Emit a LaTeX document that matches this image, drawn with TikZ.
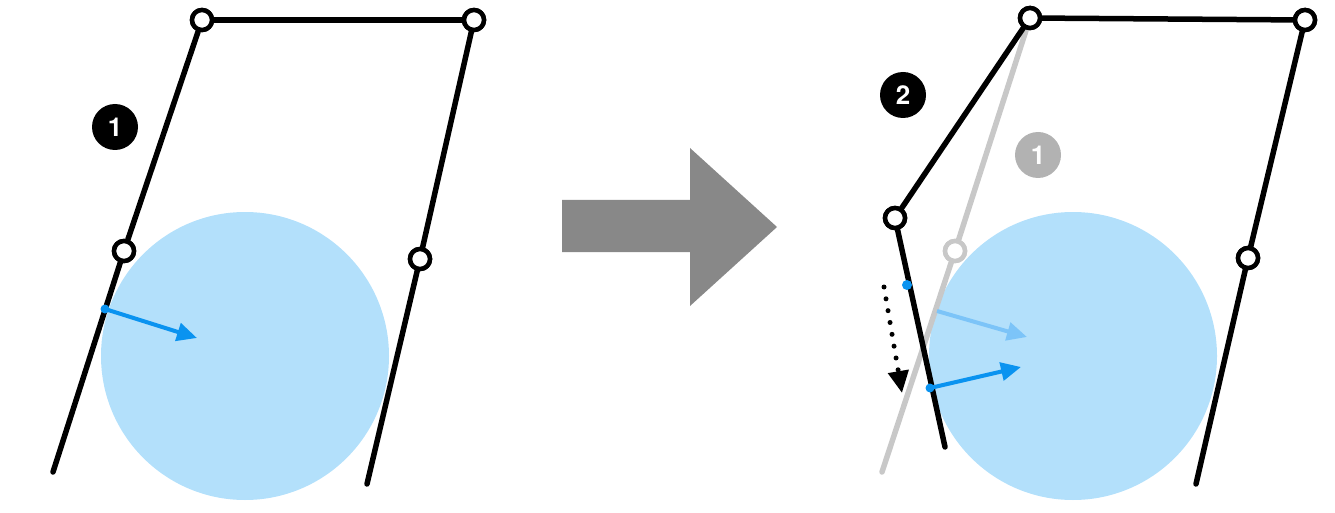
\documentclass[tikz,border=0pt]{standalone}
\usepackage{fontspec}
\setmainfont{TeX Gyre Heros}
\usetikzlibrary{arrows.meta}
\definecolor{lblue}{HTML}{B3E0FB}
\definecolor{dblue}{HTML}{0A93F0}
\definecolor{mblue}{HTML}{7CC4F8}
\definecolor{lgray}{HTML}{C8C8C8}
\definecolor{bgray}{HTML}{888888}
\tikzset{
 bar/.style={line width=5.5pt,line cap=round},
 joint/.style={circle,draw,fill=white,line width=4.5pt,minimum size=20pt,inner sep=0pt},
 badge/.style={circle,fill=black,minimum size=46pt,inner sep=0pt,text=white,font=\bfseries\fontsize{26}{26}\selectfont},
 varrow/.style={line width=4pt,-{Triangle[length=20pt,width=18pt]}},
 vdot/.style={circle,inner sep=0pt,minimum size=9pt}
}
\begin{document}
\begin{tikzpicture}[x=1pt,y=-1pt]
\useasboundingbox (0,0) rectangle (1335,513);
% left panel
\fill[lblue] (245,356) circle (144);
\coordinate (l1) at (53,472);
\coordinate (r1) at (367,484);
\node[joint] (a) at (202,20) {};
\node[joint] (b) at (474,20) {};
\node[joint] (c) at (124,251) {};
\node[joint] (d) at (420,259) {};
\draw[bar] (a) -- (b);
\draw[bar] (l1) -- (c) -- (a);
\draw[bar] (r1) -- (d) -- (b);
\node[joint] at (a) {};\node[joint] at (b) {};\node[joint] at (c) {};\node[joint] at (d) {};
\node[vdot,fill=dblue] (p1) at (105,309) {};
\coordinate (q1) at (197,338);
\draw[varrow,dblue] (p1.center) -- (q1);
\node[badge] (n1) at (115,127) {1};
% big arrow
\fill[bgray] (562,200) -- (690,200) -- (690,148) -- (777,227) -- (690,306) -- (690,252) -- (562,252) -- cycle;
% right panel
\fill[lblue] (1073,356) circle (144);
\coordinate (gl) at (882,472);
\coordinate (bl) at (945,447);
\coordinate (rr) at (1196,484);
\node[joint,draw=lgray] (g) at (955,251) {};
\draw[bar,lgray] (gl) -- (g) -- (1030,18);
\node[joint,draw=lgray] at (g) {};
\node[joint] (A) at (1030,18) {};
\node[joint] (B) at (1305,20) {};
\node[joint] (C) at (895,218) {};
\node[joint] (D) at (1248,258) {};
\draw[bar] (A) -- (B);
\draw[bar] (A) -- (C) -- (bl);
\draw[bar] (rr) -- (D) -- (B);
\node[joint] at (A) {};\node[joint] at (B) {};\node[joint] at (C) {};\node[joint] at (D) {};
\node[vdot,fill=dblue,minimum size=10pt] (s) at (907,285) {};
\coordinate (m0) at (937,311);
\coordinate (m1) at (1027,337);
\draw[varrow,mblue] (m0) -- (m1);
\node[vdot,fill=dblue] (p2) at (930,388) {};
\coordinate (q2) at (1021,367);
\draw[varrow,dblue] (p2.center) -- (q2);
\coordinate (t0) at (884,287);
\coordinate (t1) at (902,393);
\draw[line width=5pt,dash pattern=on 0pt off 12pt,line cap=round,-{Triangle[length=22pt,width=20pt]}] (t0) -- (t1);
\node[badge] (n2) at (903,95) {2};
\node[badge,fill=black!30] (n3) at (1038,155) {1};
\end{tikzpicture}
\end{document}
